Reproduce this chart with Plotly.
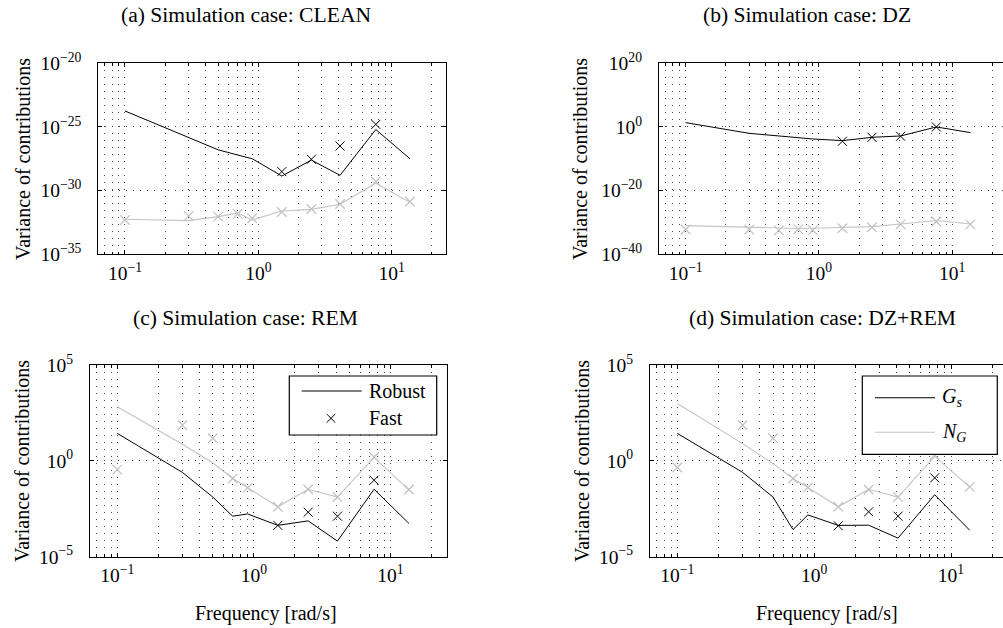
import plotly.graph_objects as go

W, H = 1003, 628

# ---------------- data ----------------
freq = [0.1, 0.3, 0.5, 0.7, 0.9, 1.5, 2.5, 4.1, 7.6, 13.7]
freq_fast = [1.5, 2.5, 4.1, 7.6]

# (a) CLEAN
clean_robust_gs = [1.8e-24, 1.4e-26, 1.6e-27, 6.3e-28, 3.2e-28, 1.4e-29, 2.5e-28, 1.6e-29, 6.3e-26, 3.2e-28]
clean_robust_ng = [5.6e-33, 4.4e-33, 9.1e-33, 1.7e-32, 5.0e-33, 2.5e-32, 3.4e-32, 8.5e-32, 3.8e-30, 1.2e-31]
clean_fast_gs = [3.1e-29, 2.9e-28, 3.2e-27, 1.6e-25]
clean_fast_ng = [5.0e-33, 1.0e-32, 9.1e-33, 1.5e-32, 6.8e-33, 2.1e-32, 3.6e-32, 8.9e-32, 5.1e-30, 1.4e-31]

# (b) DZ
dz_robust_gs = [23, 1.0e-2, 1.5e-3, 3.5e-4, 1.7e-4, 5.1e-5, 5.6e-4, 1.5e-3, 1.0, 1.7e-2]
dz_robust_ng = [1e-31, 3.2e-32, 1.3e-32, 1.3e-32, 1.6e-32, 3.2e-32, 5.0e-32, 3.2e-31, 4.0e-30, 3.2e-31]
dz_fast_gs = [3.2e-5, 5.6e-4, 1.2e-3, 1.0]
dz_fast_ng = [6.3e-33, 6.3e-33, 3.2e-33, 7.9e-33, 4.0e-33, 1.6e-32, 3.2e-32, 2.5e-31, 2.0e-30, 2.5e-31]

# (c) REM
rem_robust_gs = [27, 0.25, 1.3e-2, 1.3e-3, 1.7e-3, 4.3e-4, 7.4e-4, 6.5e-5, 3.3e-2, 5.4e-4]
rem_robust_ng = [660, 7.4, 0.79, 0.12, 4.1e-2, 4.0e-3, 3.3e-2, 1.3e-2, 1.5, 3.0e-2]
rem_fast_gs = [4.3e-4, 2.1e-3, 1.3e-3, 9.8e-2]
rem_fast_ng = [0.35, 72, 15, 0.12, 3.9e-2, 4.0e-3, 3.3e-2, 1.3e-2, 1.6, 3.2e-2]

# (d) DZ+REM
dzrem_robust_gs = [27, 0.25, 1.3e-2, 2.6e-4, 1.5e-3, 4.3e-4, 4.4e-4, 9.3e-5, 1.7e-2, 2.4e-4]
dzrem_robust_ng = [980, 7.9, 0.72, 0.12, 4.1e-2, 4.0e-3, 3.3e-2, 1.3e-2, 1.7, 4.4e-2]
dzrem_fast_gs = [4.1e-4, 2.2e-3, 1.3e-3, 0.13]
dzrem_fast_ng = [0.45, 72, 15, 0.12, 4.1e-2, 4.0e-3, 3.2e-2, 1.3e-2, 2.0, 4.4e-2]

# tick positions / labels
x_tickvals = [0.1, 1, 10]
x_ticktext = ["10<sup>−1</sup>", "10<sup>0</sup>", "10<sup>1</sup>"]
y_tickvals_a = [1e-35, 1e-30, 1e-25, 1e-20]
y_ticktext_a = ["10<sup>−35</sup>", "10<sup>−30</sup>", "10<sup>−25</sup>", "10<sup>−20</sup>"]
y_tickvals_b = [1e-40, 1e-20, 1e0, 1e20]
y_ticktext_b = ["10<sup>−40</sup>", "10<sup>−20</sup>", "10<sup>0</sup>", "10<sup>20</sup>"]
y_tickvals_cd = [1e-5, 1e0, 1e5]
y_ticktext_cd = ["10<sup>−5</sup>", "10<sup>0</sup>", "10<sup>5</sup>"]

titles = ["(a) Simulation case: CLEAN", "(b) Simulation case: DZ",
          "(c) Simulation case: REM", "(d) Simulation case: DZ+REM"]
ylabel = "Variance of contributions"
xlabel = "Frequency [rad/s]"

# ---------------- styling ----------------
FONT = "Liberation Serif, Times New Roman, DejaVu Serif, serif"
BLACK = "#000000"
GRAY = "#c4c4c4"
GRIDC = "#444444"
GDASH = "1px,6px"


def px(x):
    return x / W


def py(y):
    return 1 - y / H


panels = [
    dict(xd=(98.3, 445.7), yd=(63.3, 254.3), xr=[-1.2, 1.405], yr=[-35, -20],
         yt=(y_tickvals_a, y_ticktext_a), right=True),
    dict(xd=(659.0, 1003.0), yd=(63.3, 254.3), xr=[-1.2, 1.381], yr=[-40, 20],
         yt=(y_tickvals_b, y_ticktext_b), right=False),
    dict(xd=(90.0, 446.7), yd=(365.0, 556.7), xr=[-1.2, 1.413], yr=[-5, 5],
         yt=(y_tickvals_cd, y_ticktext_cd), right=True),
    dict(xd=(650.0, 1003.0), yd=(365.0, 556.7), xr=[-1.2, 1.38], yr=[-5, 5],
         yt=(y_tickvals_cd, y_ticktext_cd), right=False),
]

series = [
    (clean_robust_gs, clean_robust_ng, clean_fast_gs, clean_fast_ng),
    (dz_robust_gs, dz_robust_ng, dz_fast_gs, dz_fast_ng),
    (rem_robust_gs, rem_robust_ng, rem_fast_gs, rem_fast_ng),
    (dzrem_robust_gs, dzrem_robust_ng, dzrem_fast_gs, dzrem_fast_ng),
]

fig = go.Figure()
layout = {}
annotations = []
shapes = []

for i, (p, s) in enumerate(zip(panels, series)):
    n = "" if i == 0 else str(i + 1)
    xa, ya = "x" + n, "y" + n
    rg, rn, fg, fn = s
    fig.add_trace(go.Scatter(x=freq, y=rn, mode="lines", xaxis=xa, yaxis=ya,
                             line=dict(color=GRAY, width=1.1), showlegend=False,
                             name="Robust N_G"))
    fig.add_trace(go.Scatter(x=freq, y=fn, mode="markers", xaxis=xa, yaxis=ya,
                             marker=dict(symbol="x-thin-open", size=9.5, color=GRAY,
                                         line=dict(color=GRAY, width=1.3)),
                             showlegend=False, name="Fast N_G"))
    fig.add_trace(go.Scatter(x=freq, y=rg, mode="lines", xaxis=xa, yaxis=ya,
                             line=dict(color=BLACK, width=1), showlegend=False,
                             name="Robust G_s"))
    fig.add_trace(go.Scatter(x=freq_fast, y=fg, mode="markers", xaxis=xa, yaxis=ya,
                             marker=dict(symbol="x-thin-open", size=9, color=BLACK,
                                         line=dict(color=BLACK, width=1)),
                             showlegend=False, name="Fast G_s"))

    layout["xaxis" + n] = dict(
        type="log", domain=[px(p["xd"][0]), px(p["xd"][1])], range=p["xr"],
        anchor=ya, tickmode="array", tickvals=x_tickvals, ticktext=x_ticktext,
        ticks="inside", ticklen=4, tickcolor=BLACK, tickwidth=1,
        showline=True, linecolor=BLACK, linewidth=1.2, mirror="allticks",
        showgrid=True, gridcolor=GRIDC, griddash=GDASH, gridwidth=1,
        minor=dict(dtick="D1", ticks="inside", ticklen=2.5, tickcolor=BLACK,
                   showgrid=True, gridcolor=GRIDC, griddash=GDASH, gridwidth=1),
        zeroline=False, ticklabelstandoff=1, automargin=False,
        tickfont=dict(family=FONT, size=19.5, color=BLACK),
    )
    layout["yaxis" + n] = dict(
        type="log", domain=[py(p["yd"][1]), py(p["yd"][0])], range=p["yr"],
        anchor=xa, tickmode="array", tickvals=p["yt"][0], ticktext=p["yt"][1],
        ticks="inside", ticklen=4, tickcolor=BLACK, tickwidth=1,
        showline=True, linecolor=BLACK, linewidth=1.2,
        mirror="allticks" if p["right"] else False,
        showgrid=True, gridcolor=GRIDC, griddash=GDASH, gridwidth=1,
        zeroline=False, ticklabelstandoff=12, automargin=False,
        tickfont=dict(family=FONT, size=19.5, color=BLACK),
    )

# titles
for (tx, ty), t in zip([(246, 15), (807, 15), (245, 318), (822, 318)], titles):
    annotations.append(dict(text=t, x=px(tx), y=py(ty), xref="paper", yref="paper",
                            xanchor="center", yanchor="middle", showarrow=False,
                            font=dict(family=FONT, size=21.6, color=BLACK)))
# y labels
for (tx, ty) in [(23, 159), (580, 159), (22, 461), (582, 461)]:
    annotations.append(dict(text=ylabel, x=px(tx), y=py(ty), xref="paper", yref="paper",
                            xanchor="center", yanchor="middle", textangle=-90,
                            showarrow=False, font=dict(family=FONT, size=20, color=BLACK)))
# x labels
for (tx, ty) in [(266, 613), (827, 613)]:
    annotations.append(dict(text=xlabel, x=px(tx), y=py(ty), xref="paper", yref="paper",
                            xanchor="center", yanchor="middle", showarrow=False,
                            font=dict(family=FONT, size=20, color=BLACK)))


# ---------------- hand-made legends ----------------
def rect(x0, y0, x1, y1):
    return dict(type="rect", xref="paper", yref="paper", x0=px(x0), x1=px(x1),
                y0=py(y1), y1=py(y0), line=dict(color=BLACK, width=1.2),
                fillcolor="white", layer="above")


def hline(x0, x1, y, color):
    return dict(type="line", xref="paper", yref="paper", x0=px(x0), x1=px(x1),
                y0=py(y), y1=py(y), line=dict(color=color, width=1.1), layer="above")


def cross(cx, cy, r, color):
    path = "M {a},{b} L {c},{d} M {a},{d} L {c},{b}".format(
        a=px(cx - r), b=py(cy - r), c=px(cx + r), d=py(cy + r))
    return dict(type="path", xref="paper", yref="paper", path=path,
                line=dict(color=color, width=1), layer="above")


def label(text, x, y):
    return dict(text=text, x=px(x), y=py(y), xref="paper", yref="paper",
                xanchor="left", yanchor="middle", showarrow=False,
                font=dict(family=FONT, size=20, color=BLACK))


# (c) legend
shapes.append(rect(289.3, 376, 436.7, 435))
shapes.append(hline(301.7, 361.7, 391, BLACK))
shapes.append(cross(331, 418.3, 4.3, BLACK))
annotations.append(label("Robust", 367, 391))
annotations.append(label("Fast", 367, 418.3))

# (d) legend
shapes.append(rect(862.3, 376, 997.3, 454.3))
shapes.append(hline(875, 935, 397.7, BLACK))
shapes.append(hline(875, 935, 432.3, GRAY))
annotations.append(label("<i>G</i><sub><i>s</i></sub>", 940, 397.7))
annotations.append(label("<i>N</i><sub><i>G</i></sub>", 940, 432.3))

fig.update_layout(
    template="none",
    width=W, height=H, margin=dict(l=0, r=0, t=0, b=0, autoexpand=False),
    paper_bgcolor="white", plot_bgcolor="white",
    showlegend=False, annotations=annotations, shapes=shapes,
    font=dict(family=FONT, color=BLACK),
    **layout,
)

fig.write_html("out.html",
               config={"displayModeBar": False},
               post_script="document.body.style.margin='0px';"
                           "document.body.style.overflow='hidden';")
